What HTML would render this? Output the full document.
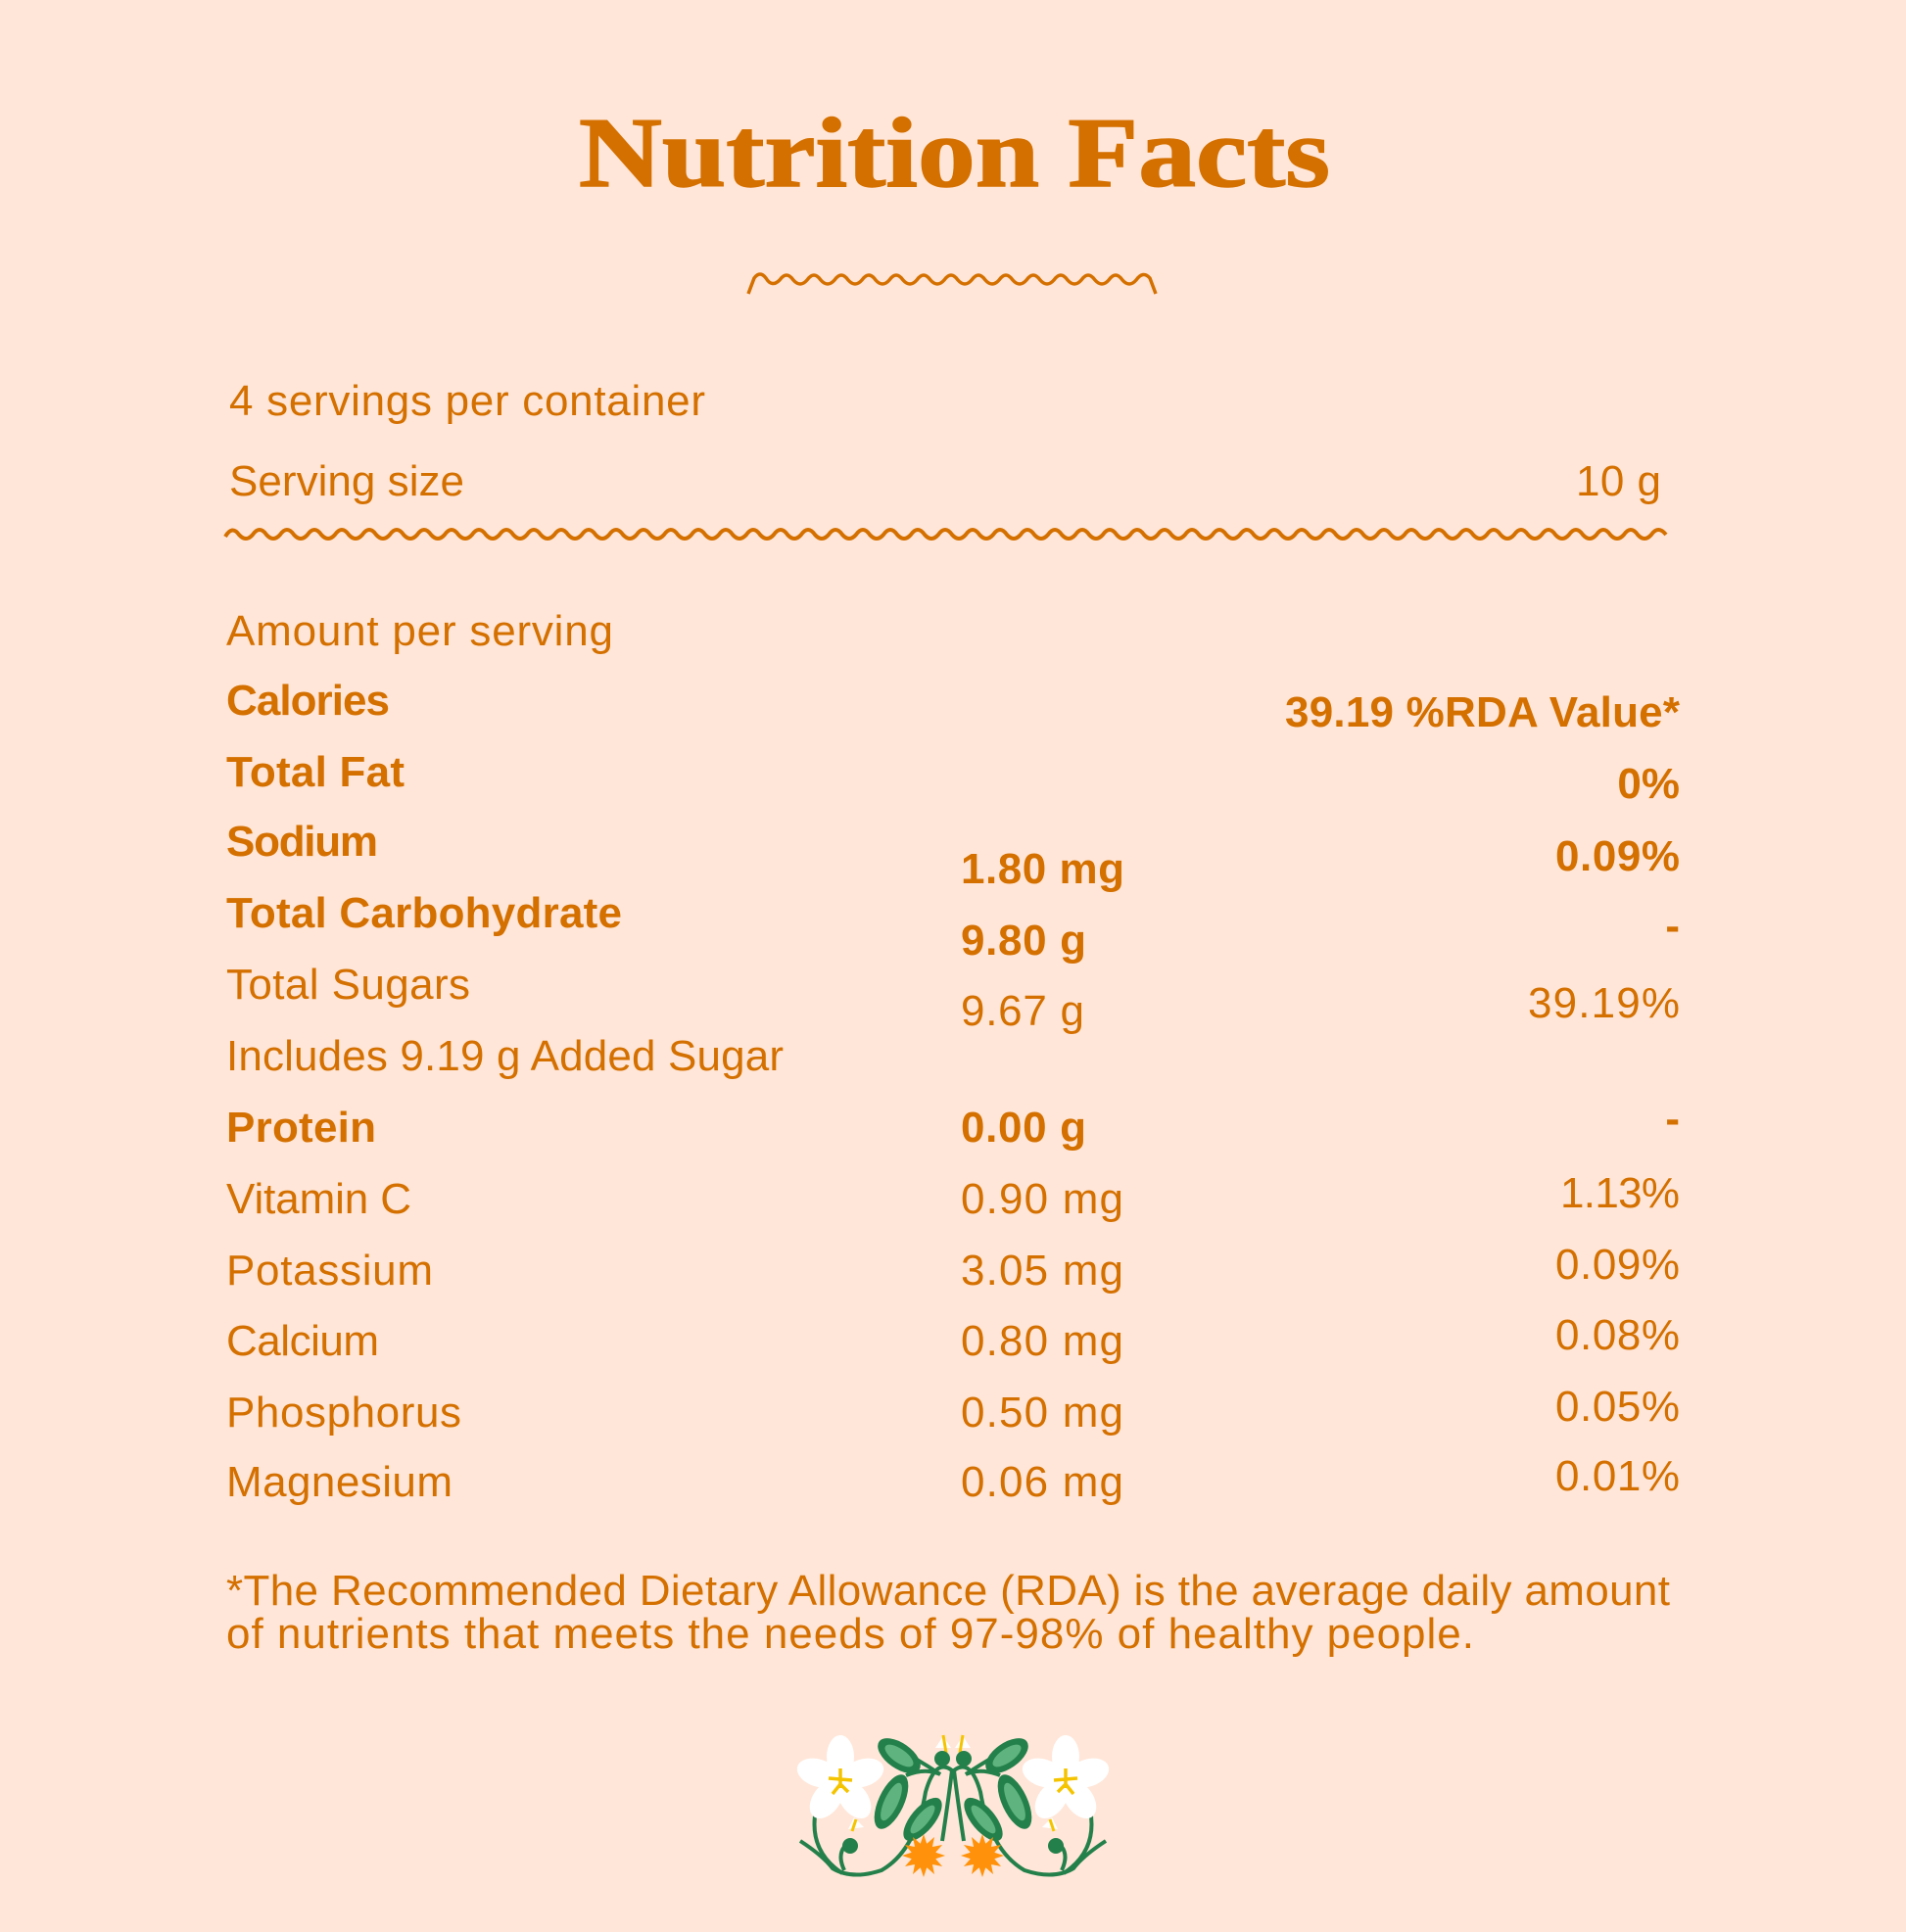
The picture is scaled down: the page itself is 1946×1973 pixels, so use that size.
<!DOCTYPE html>
<html><head><meta charset="utf-8"><style>html,body{margin:0;padding:0;background:#FFE6D8}svg{display:block}</style></head>
<body>
<svg width="1946" height="1973" viewBox="0 0 1946 1973" xmlns="http://www.w3.org/2000/svg">
<rect width="1946" height="1973" fill="#FFE6D8"/>
<g fill="#D47000" font-family="Liberation Sans, sans-serif">
<text x="591" y="190" font-family="Liberation Serif, serif" font-weight="bold" font-size="102" textLength="767" lengthAdjust="spacingAndGlyphs" stroke="#D47000" stroke-width="1.5">Nutrition Facts</text>
<g font-size="44" lengthAdjust="spacingAndGlyphs">
<text x="234" y="424" textLength="486">4 servings per container</text>
<text x="234" y="506" textLength="240">Serving size</text>
<text x="1609" y="506" textLength="87">10 g</text>
<text x="231" y="659" textLength="395">Amount per serving</text>
<g font-weight="bold">
<text x="231" y="730" textLength="167">Calories</text>
<text x="1312" y="742" textLength="403">39.19 %RDA Value*</text>
<text x="231" y="803" textLength="182">Total Fat</text>
<text x="1715" y="815" text-anchor="end">0%</text>
<text x="231" y="874" textLength="155">Sodium</text>
<text x="981" y="902" textLength="167">1.80 mg</text>
<text x="1588" y="889" textLength="127">0.09%</text>
<text x="231" y="947" textLength="404">Total Carbohydrate</text>
<text x="981" y="975" textLength="128">9.80 g</text>
<text x="1715" y="960" text-anchor="end">-</text>
<text x="231" y="1166" textLength="153">Protein</text>
<text x="981" y="1166" textLength="128">0.00 g</text>
<text x="1715" y="1157" text-anchor="end">-</text>
</g>
<text x="231" y="1020" textLength="249">Total Sugars</text>
<text x="981" y="1047" textLength="126">9.67 g</text>
<text x="1560" y="1039" textLength="155">39.19%</text>
<text x="231" y="1093" textLength="569">Includes 9.19 g Added Sugar</text>
<text x="231" y="1239" textLength="189">Vitamin C</text>
<text x="981" y="1239" textLength="166">0.90 mg</text>
<text x="1593" y="1233" textLength="122">1.13%</text>
<text x="231" y="1312" textLength="211">Potassium</text>
<text x="981" y="1312" textLength="166">3.05 mg</text>
<text x="1588" y="1306" textLength="127">0.09%</text>
<text x="231" y="1384" textLength="156">Calcium</text>
<text x="981" y="1384" textLength="166">0.80 mg</text>
<text x="1588" y="1378" textLength="127">0.08%</text>
<text x="231" y="1457" textLength="240">Phosphorus</text>
<text x="981" y="1457" textLength="166">0.50 mg</text>
<text x="1588" y="1451" textLength="127">0.05%</text>
<text x="231" y="1528" textLength="231">Magnesium</text>
<text x="981" y="1528" textLength="166">0.06 mg</text>
<text x="1588" y="1522" textLength="127">0.01%</text>
<text x="231" y="1639" font-size="44" textLength="1474">*The Recommended Dietary Allowance (RDA) is the average daily amount</text>
<text x="231" y="1683" font-size="44" textLength="1274">of nutrients that meets the needs of 97-98% of healthy people.</text>
</g>
</g>
<path d="M764,300 L770,284 Q776,276 782,284 Q788,294 796,286 Q803,276 810,286 Q817,294 824,286 Q831,276 838,286 Q845,294 852,286 Q859,276 866,286 Q873,294 880,286 Q887,276 894,286 Q901,294 908,286 Q915,276 922,286 Q929,294 936,286 Q943,276 950,286 Q957,294 964,286 Q971,276 978,286 Q985,294 992,286 Q999,276 1006,286 Q1013,294 1020,286 Q1027,276 1034,286 Q1041,294 1048,286 Q1055,276 1062,286 Q1069,294 1076,286 Q1083,276 1090,286 Q1097,294 1104,286 Q1111,276 1118,286 Q1125,294 1132,286 Q1139,276 1146,286 Q1153,294 1160,286 Q1167,276 1174,284 L1180,300" fill="none" stroke="#D47000" stroke-width="3.5"/>
<path fill="none" stroke="#D47000" stroke-width="4" d="M230,548 Q237,536 244,546 Q251,554 258,546 Q265,536 272,546 Q279,554 286,546 Q293,536 300,546 Q307,554 314,546 Q321,536 328,546 Q335,554 342,546 Q349,536 356,546 Q363,554 370,546 Q377,536 384,546 Q391,554 398,546 Q405,536 412,546 Q419,554 426,546 Q433,536 440,546 Q447,554 454,546 Q461,536 468,546 Q475,554 482,546 Q489,536 496,546 Q503,554 510,546 Q517,536 524,546 Q531,554 538,546 Q545,536 552,546 Q559,554 566,546 Q573,536 580,546 Q587,554 594,546 Q601,536 608,546 Q615,554 622,546 Q629,536 636,546 Q643,554 650,546 Q657,536 664,546 Q671,554 678,546 Q685,536 692,546 Q699,554 706,546 Q713,536 720,546 Q727,554 734,546 Q741,536 748,546 Q755,554 762,546 Q769,536 776,546 Q783,554 790,546 Q797,536 804,546 Q811,554 818,546 Q825,536 832,546 Q839,554 846,546 Q853,536 860,546 Q867,554 874,546 Q881,536 888,546 Q895,554 902,546 Q909,536 916,546 Q923,554 930,546 Q937,536 944,546 Q951,554 958,546 Q965,536 972,546 Q979,554 986,546 Q993,536 1000,546 Q1007,554 1014,546 Q1021,536 1028,546 Q1035,554 1042,546 Q1049,536 1056,546 Q1063,554 1070,546 Q1077,536 1084,546 Q1091,554 1098,546 Q1105,536 1112,546 Q1119,554 1126,546 Q1133,536 1140,546 Q1147,554 1154,546 Q1161,536 1168,546 Q1175,554 1182,546 Q1189,536 1196,546 Q1203,554 1210,546 Q1217,536 1224,546 Q1231,554 1238,546 Q1245,536 1252,546 Q1259,554 1266,546 Q1273,536 1280,546 Q1287,554 1294,546 Q1301,536 1308,546 Q1315,554 1322,546 Q1329,536 1336,546 Q1343,554 1350,546 Q1357,536 1364,546 Q1371,554 1378,546 Q1385,536 1392,546 Q1399,554 1406,546 Q1413,536 1420,546 Q1427,554 1434,546 Q1441,536 1448,546 Q1455,554 1462,546 Q1469,536 1476,546 Q1483,554 1490,546 Q1497,536 1504,546 Q1511,554 1518,546 Q1525,536 1532,546 Q1539,554 1546,546 Q1553,536 1560,546 Q1567,554 1574,546 Q1581,536 1588,546 Q1595,554 1602,546 Q1609,536 1616,546 Q1623,554 1630,546 Q1637,536 1644,546 Q1651,554 1658,546 Q1665,536 1672,546 Q1679,554 1686,546 Q1693,536 1701,546"/>
<g id="half">
<path d="M817,1880 Q840,1895 850,1908 Q870,1920 900,1910 Q935,1890 945,1830 Q955,1795 972,1808 Q968,1840 962,1880" fill="none" stroke="#24804A" stroke-width="4"/>
<path d="M833,1848 Q825,1890 860,1913 M862,1910 Q855,1895 862,1886" fill="none" stroke="#24804A" stroke-width="4"/>
<path d="M925,1813 Q945,1805 960,1812 Q935,1795 905,1780" fill="none" stroke="#24804A" stroke-width="4"/>
<ellipse cx="918" cy="1793" rx="25" ry="13" transform="rotate(35 918 1793)" fill="#24804A"/>
<ellipse cx="918" cy="1793" rx="17" ry="7" transform="rotate(35 918 1793)" fill="#5FB37E"/>
<ellipse cx="910" cy="1840" rx="30" ry="13" transform="rotate(-65 910 1840)" fill="#24804A"/>
<ellipse cx="910" cy="1840" rx="21" ry="7" transform="rotate(-65 910 1840)" fill="#5FB37E"/>
<ellipse cx="942" cy="1858" rx="27" ry="12" transform="rotate(-50 942 1858)" fill="#24804A"/>
<ellipse cx="942" cy="1858" rx="18" ry="6" transform="rotate(-50 942 1858)" fill="#5FB37E"/>
<g fill="#fff" transform="translate(858 1818)">
<ellipse cx="0" cy="-24" rx="14" ry="22"/><ellipse cx="0" cy="-24" rx="14" ry="22" transform="rotate(72)"/><ellipse cx="0" cy="-24" rx="14" ry="22" transform="rotate(144)"/><ellipse cx="0" cy="-24" rx="14" ry="22" transform="rotate(216)"/><ellipse cx="0" cy="-24" rx="14" ry="22" transform="rotate(288)"/>
<path d="M0,-12 L0,8 M-12,-2 L12,0 M0,4 L-8,14 M0,4 L8,12" stroke="#F5C400" stroke-width="3.5" fill="none"/>
</g>
<path d="M955,1785 l8,-12 l8,12 z" fill="#fff"/><path d="M963,1772 L966,1790" stroke="#F5C400" stroke-width="3"/>
<circle cx="962" cy="1796" r="8" fill="#24804A"/>
<path d="M866,1868 l6,-12 l10,10 z" fill="#fff"/><path d="M870,1870 L874,1858" stroke="#F5C400" stroke-width="3"/><circle cx="868" cy="1885" r="8" fill="#24804A"/>
<g transform="translate(943 1895)" fill="#FF920A">
<circle r="13"/>
<path d="M0,-22 L4,-10 L-4,-10 Z M0,22 L4,10 L-4,10 Z M-22,0 L-10,4 L-10,-4 Z M22,0 L10,4 L10,-4 Z"/>
<path d="M0,-22 L4,-10 L-4,-10 Z M0,22 L4,10 L-4,10 Z M-22,0 L-10,4 L-10,-4 Z M22,0 L10,4 L10,-4 Z" transform="rotate(30)"/>
<path d="M0,-22 L4,-10 L-4,-10 Z M0,22 L4,10 L-4,10 Z M-22,0 L-10,4 L-10,-4 Z M22,0 L10,4 L10,-4 Z" transform="rotate(60)"/>
</g>
</g>
<use href="#half" transform="translate(1946 0) scale(-1 1)"/>
</svg>
</body></html>
